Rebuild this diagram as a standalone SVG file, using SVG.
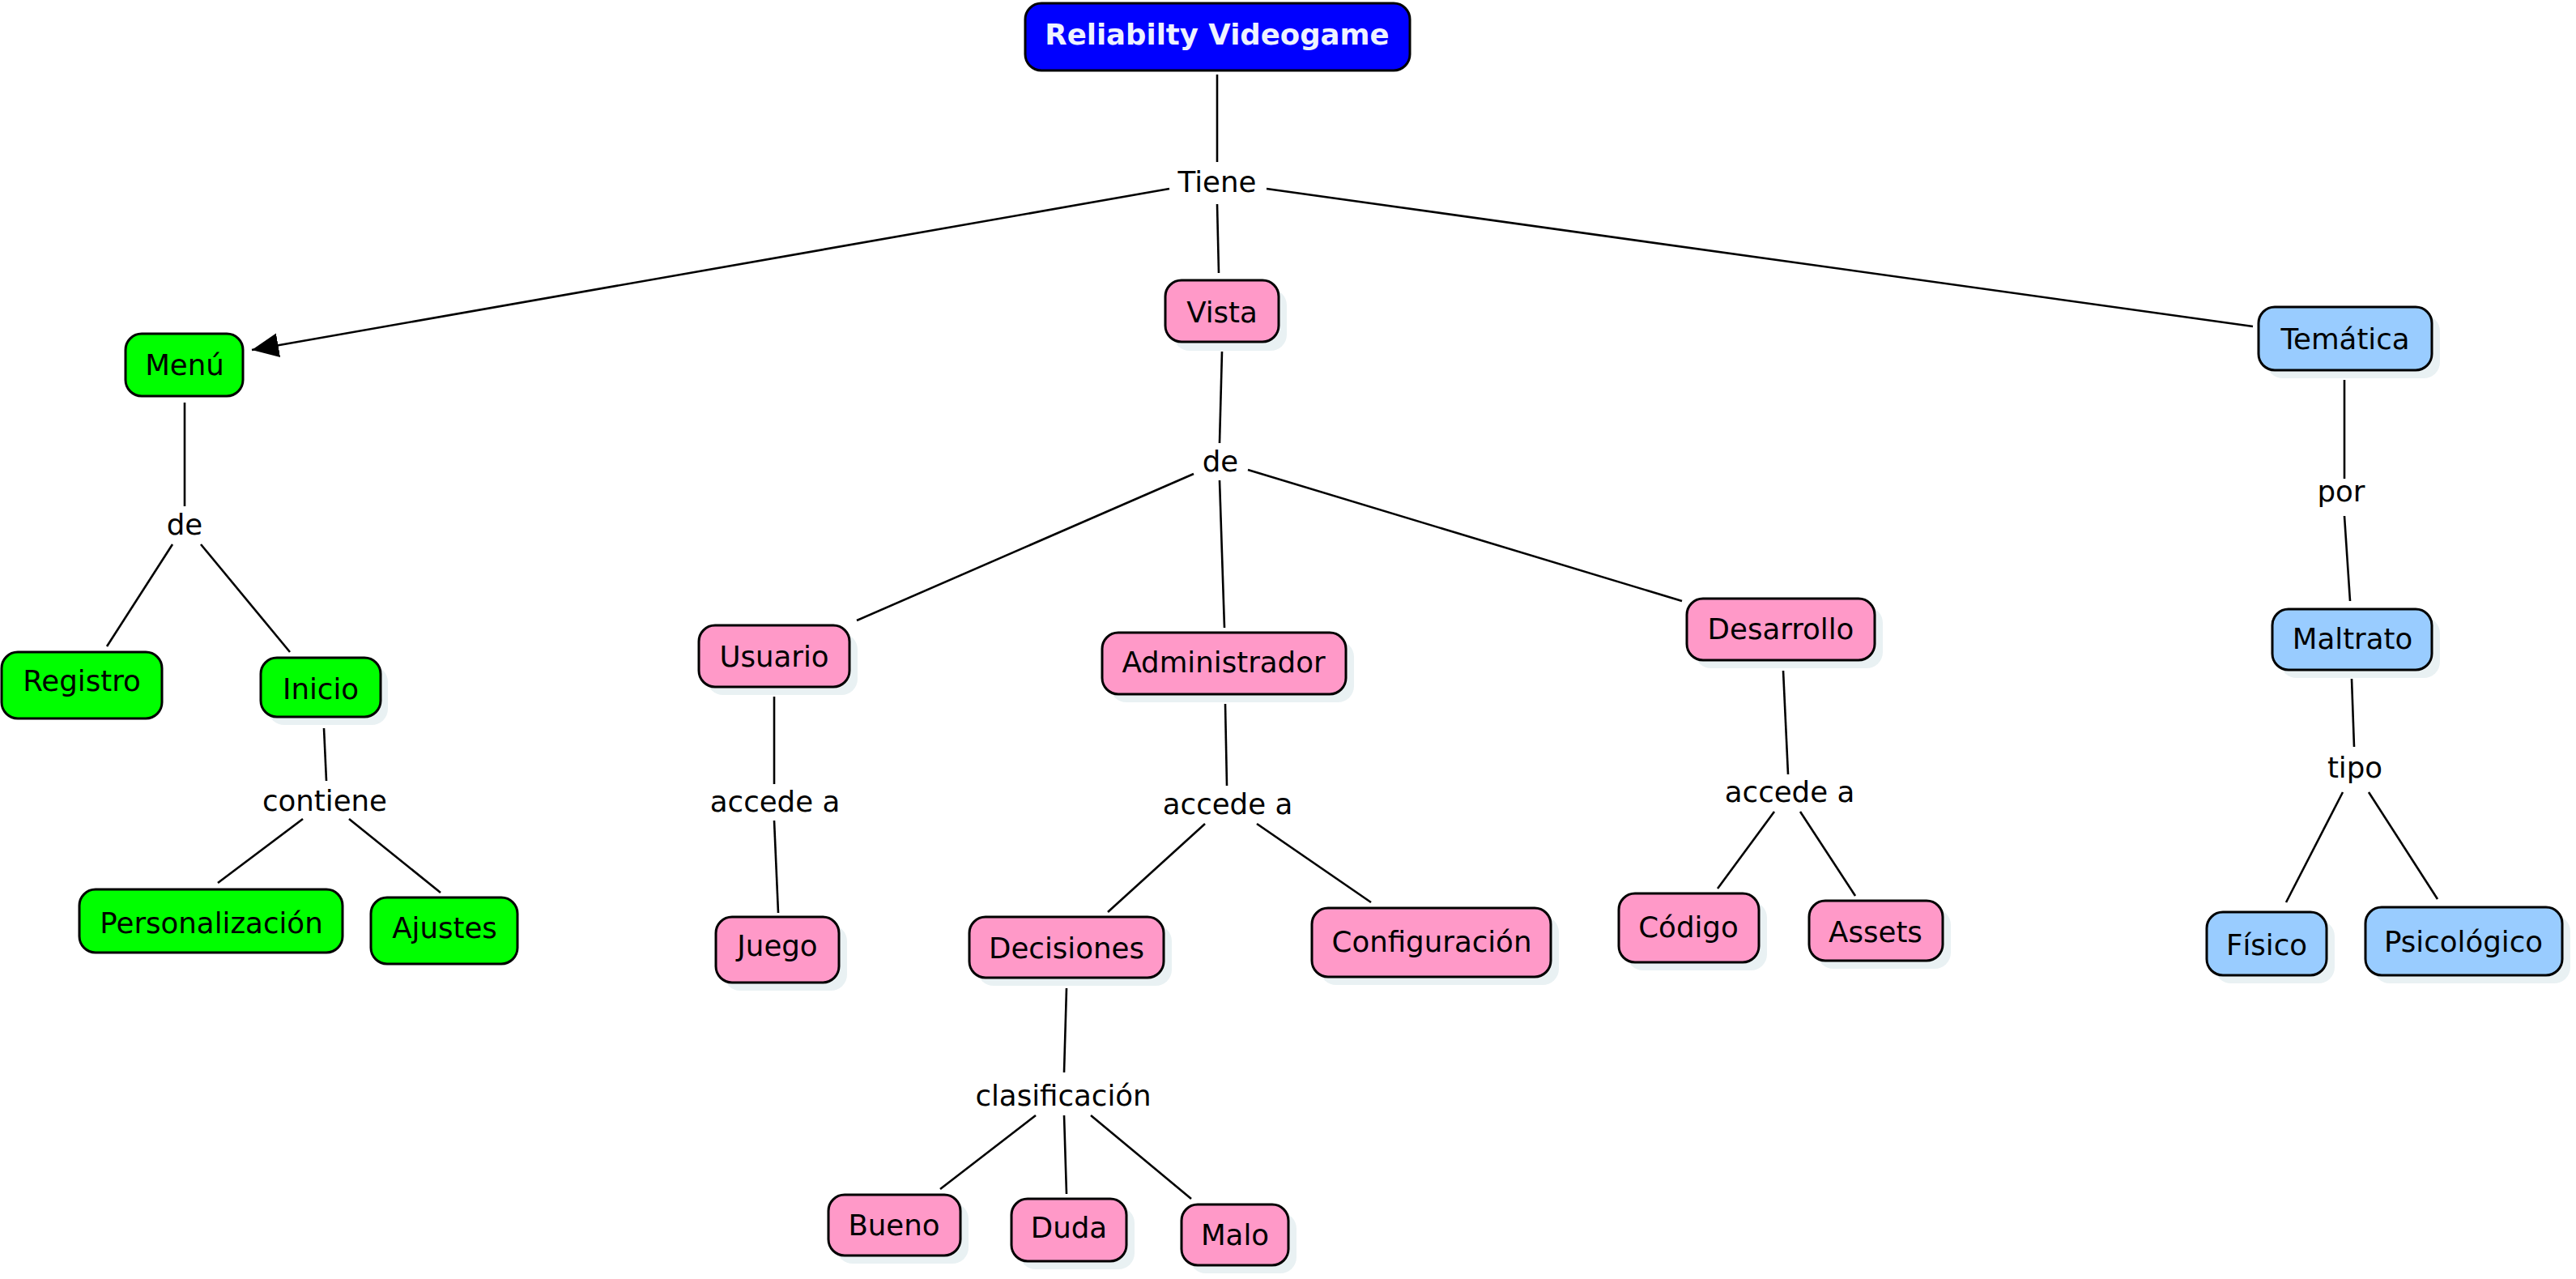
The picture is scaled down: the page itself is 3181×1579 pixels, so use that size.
<svg xmlns="http://www.w3.org/2000/svg" width="3181" height="1579" viewBox="0 0 3181 1579">
<style>
.bg{fill:#ffffff}
.box{stroke:#000;stroke-width:3}
.g{fill:#00ff00}
.p{fill:#ff99c8}
.b{fill:#99ccff}
.root{fill:#0000ff}
.sh{fill:#e9f1f3}
.t{font-family:"DejaVu Sans",Verdana,sans-serif;font-size:35.6px;fill:#000;text-anchor:middle}
.rt{font-family:"DejaVu Sans",Verdana,sans-serif;font-size:35.5px;font-weight:bold;fill:#eef2ff;text-anchor:middle}
.c line{stroke:#000;stroke-width:2.6;fill:none}
</style>
<defs>
<marker id="arr" markerUnits="userSpaceOnUse" markerWidth="36" markerHeight="32" refX="33" refY="15" orient="auto">
<path d="M0,0 L33,15 L0,30 z" fill="#000"/>
</marker>
</defs>
<rect class="bg" x="0" y="0" width="3181" height="1579"/>

<g id="connectors" class="c">
<line x1="1503" y1="92" x2="1503" y2="200"/>
<line x1="1444" y1="233" x2="311" y2="432" marker-end="url(#arr)"/>
<line x1="1503" y1="252" x2="1505" y2="337"/>
<line x1="1564" y1="233" x2="2782" y2="403"/>
<line x1="228" y1="497" x2="228" y2="625"/>
<line x1="213" y1="672" x2="132" y2="798"/>
<line x1="248" y1="672" x2="358" y2="805"/>
<line x1="400" y1="899" x2="403" y2="964"/>
<line x1="374" y1="1011" x2="269" y2="1090"/>
<line x1="431" y1="1011" x2="544" y2="1102"/>
<line x1="1509" y1="434" x2="1506" y2="547"/>
<line x1="1474" y1="585" x2="1058" y2="766"/>
<line x1="1506" y1="593" x2="1512" y2="775"/>
<line x1="1541" y1="580" x2="2077" y2="742"/>
<line x1="956" y1="860" x2="956" y2="968"/>
<line x1="956" y1="1013" x2="961" y2="1127"/>
<line x1="1513" y1="869" x2="1515" y2="970"/>
<line x1="1488" y1="1017" x2="1368" y2="1126"/>
<line x1="1552" y1="1017" x2="1693" y2="1114"/>
<line x1="1317" y1="1220" x2="1314" y2="1324"/>
<line x1="1279" y1="1377" x2="1161" y2="1468"/>
<line x1="1314" y1="1377" x2="1317" y2="1474"/>
<line x1="1347" y1="1377" x2="1471" y2="1480"/>
<line x1="2202" y1="828" x2="2208" y2="956"/>
<line x1="2191" y1="1002" x2="2121" y2="1097"/>
<line x1="2223" y1="1002" x2="2291" y2="1106"/>
<line x1="2895" y1="469" x2="2895" y2="591"/>
<line x1="2895" y1="637" x2="2902" y2="742"/>
<line x1="2904" y1="838" x2="2907" y2="922"/>
<line x1="2893" y1="978" x2="2823" y2="1114"/>
<line x1="2925" y1="978" x2="3010" y2="1110"/>
</g>

<g id="labels">
<text class="t" x="1503" y="237">Tiene</text>
<text class="t" x="228" y="660">de</text>
<text class="t" x="401" y="1001">contiene</text>
<text class="t" x="1507" y="582">de</text>
<text class="t" x="957" y="1002">accede a</text>
<text class="t" x="1516" y="1005">accede a</text>
<text class="t" x="1313" y="1365">clasificación</text>
<text class="t" x="2210" y="990">accede a</text>
<text class="t" x="2891" y="619">por</text>
<text class="t" x="2908" y="960">tipo</text>
</g>

<g id="n-root"><rect class="box root" x="1266" y="4" width="475" height="83" rx="20"/><text class="rt" x="1503" y="55">Reliabilty Videogame</text></g>

<g id="n-menu"><rect class="box g" x="155" y="412" width="145" height="77" rx="20"/><text class="t" x="228" y="463">Menú</text></g>
<g id="n-registro"><rect class="box g" x="2" y="805" width="198" height="82" rx="20"/><text class="t" x="101" y="853">Registro</text></g>
<g id="n-inicio"><rect class="sh" x="331" y="822" width="148" height="73" rx="20"/><rect class="box g" x="322" y="812" width="148" height="73" rx="20"/><text class="t" x="396" y="863">Inicio</text></g>
<g id="n-personalizacion"><rect class="box g" x="98" y="1098" width="325" height="78" rx="20"/><text class="t" x="261" y="1152">Personalización</text></g>
<g id="n-ajustes"><rect class="box g" x="458" y="1108" width="181" height="82" rx="20"/><text class="t" x="549" y="1158">Ajustes</text></g>

<g id="n-vista"><rect class="sh" x="1449" y="357" width="140" height="76" rx="20"/><rect class="box p" x="1439" y="346" width="140" height="76" rx="20"/><text class="t" x="1509" y="398">Vista</text></g>
<g id="n-usuario"><rect class="sh" x="873" y="782" width="186" height="76" rx="20"/><rect class="box p" x="863" y="772" width="186" height="76" rx="20"/><text class="t" x="956" y="823">Usuario</text></g>
<g id="n-juego"><rect class="sh" x="894" y="1142" width="152" height="81" rx="20"/><rect class="box p" x="884" y="1132" width="152" height="81" rx="20"/><text class="t" x="960" y="1180">Juego</text></g>
<g id="n-administrador"><rect class="sh" x="1371" y="791" width="301" height="76" rx="20"/><rect class="box p" x="1361" y="781" width="301" height="76" rx="20"/><text class="t" x="1511" y="830">Administrador</text></g>
<g id="n-decisiones"><rect class="sh" x="1207" y="1142" width="240" height="75" rx="20"/><rect class="box p" x="1197" y="1132" width="240" height="75" rx="20"/><text class="t" x="1317" y="1183">Decisiones</text></g>
<g id="n-configuracion"><rect class="sh" x="1630" y="1131" width="295" height="85" rx="20"/><rect class="box p" x="1620" y="1121" width="295" height="85" rx="20"/><text class="t" x="1768" y="1175">Configuración</text></g>
<g id="n-bueno"><rect class="sh" x="1033" y="1485" width="163" height="75" rx="20"/><rect class="box p" x="1023" y="1475" width="163" height="75" rx="20"/><text class="t" x="1104" y="1525">Bueno</text></g>
<g id="n-duda"><rect class="sh" x="1259" y="1490" width="142" height="77" rx="20"/><rect class="box p" x="1249" y="1480" width="142" height="77" rx="20"/><text class="t" x="1320" y="1528">Duda</text></g>
<g id="n-malo"><rect class="sh" x="1469" y="1497" width="132" height="75" rx="20"/><rect class="box p" x="1459" y="1487" width="132" height="75" rx="20"/><text class="t" x="1525" y="1537">Malo</text></g>
<g id="n-desarrollo"><rect class="sh" x="2093" y="749" width="232" height="76" rx="20"/><rect class="box p" x="2083" y="739" width="232" height="76" rx="20"/><text class="t" x="2199" y="789">Desarrollo</text></g>
<g id="n-codigo"><rect class="sh" x="2009" y="1113" width="173" height="85" rx="20"/><rect class="box p" x="1999" y="1103" width="173" height="85" rx="20"/><text class="t" x="2085" y="1157">Código</text></g>
<g id="n-assets"><rect class="sh" x="2244" y="1122" width="165" height="74" rx="20"/><rect class="box p" x="2234" y="1112" width="165" height="74" rx="20"/><text class="t" x="2316" y="1163">Assets</text></g>

<g id="n-tematica"><rect class="sh" x="2799" y="389" width="214" height="78" rx="20"/><rect class="box b" x="2789" y="379" width="214" height="78" rx="20"/><text class="t" x="2896" y="431">Temática</text></g>
<g id="n-maltrato"><rect class="sh" x="2816" y="762" width="197" height="75" rx="20"/><rect class="box b" x="2806" y="752" width="197" height="75" rx="20"/><text class="t" x="2905" y="801">Maltrato</text></g>
<g id="n-fisico"><rect class="sh" x="2735" y="1136" width="148" height="78" rx="20"/><rect class="box b" x="2725" y="1126" width="148" height="78" rx="20"/><text class="t" x="2799" y="1179">Físico</text></g>
<g id="n-psicologico"><rect class="sh" x="2931" y="1130" width="243" height="84" rx="20"/><rect class="box b" x="2921" y="1120" width="243" height="84" rx="20"/><text class="t" x="3042" y="1175">Psicológico</text></g>
</svg>
